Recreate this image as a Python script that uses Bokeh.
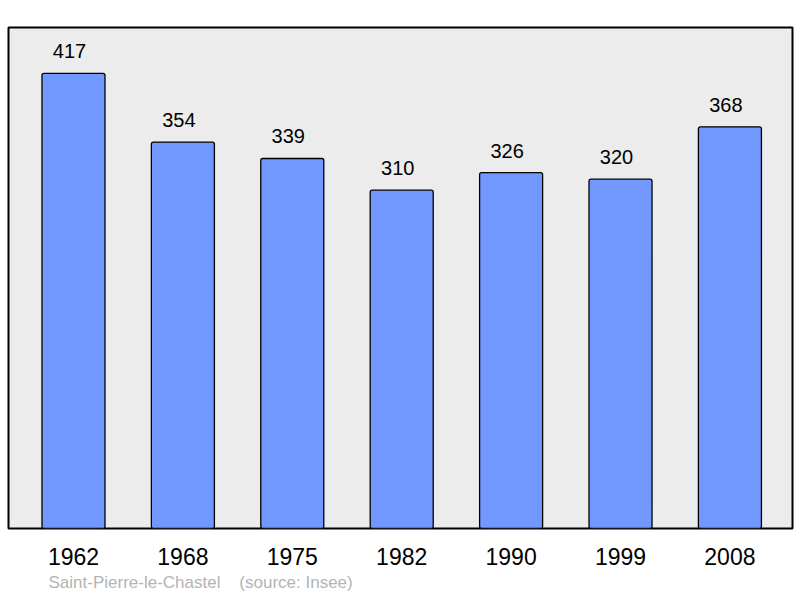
from bokeh.plotting import figure
from bokeh.models import ColumnDataSource, Range1d, FixedTicker, Title
from bokeh.core.properties import value
from bokeh.embed import file_html
from bokeh.resources import INLINE

years = ["1962", "1968", "1975", "1982", "1990", "1999", "2008"]
population = [417, 354, 339, 310, 326, 320, 368]
caption_name = "Saint-Pierre-le-Chastel"
caption_source = "(source: Insee)"

idx = list(range(len(years)))
src = ColumnDataSource(dict(x=idx, top=population, lab=[str(v) for v in population]))

p = figure(width=800, height=596, output_backend="svg", toolbar_location=None,
           x_range=Range1d(-0.594, 6.572), y_range=Range1d(0, 459),
           min_border_left=8, min_border_right=8, min_border_top=27, min_border_bottom=68)
p.background_fill_color = "#ececec"
p.border_fill_color = "white"
p.outline_line_color = "black"
p.outline_line_width = 2
p.grid.visible = False
p.yaxis.visible = False

p.vbar(x="x", top="top", width=0.576, bottom=0, source=src,
       fill_color="#7098ff", line_color="black", line_width=1.3, border_radius=2)
p.text(x="x", y="top", text="lab", source=src, text_align="center",
       text_baseline="alphabetic", y_offset=-22, x_offset=-4, text_font_size="20px",
       text_font=value("Liberation Sans"), text_color="black")

ax = p.xaxis[0]
ax.ticker = FixedTicker(ticks=idx)
ax.major_label_overrides = {i: y for i, y in enumerate(years)}
ax.axis_line_color = None
ax.major_tick_line_color = None
ax.minor_tick_line_color = None
ax.major_label_text_font = "Liberation Sans"
ax.major_label_text_font_size = "23px"
ax.major_label_text_color = "black"
ax.major_label_standoff = 13

caption = caption_name + "\u00a0\u00a0\u00a0\u00a0" + caption_source
p.add_layout(Title(text=caption, align="left", offset=40, text_font="Liberation Sans",
                   text_font_size="17px", text_color="#b4b4b4", text_font_style="normal",
                   standoff=7), "below")

open("out.html", "w").write(file_html(p, INLINE))
